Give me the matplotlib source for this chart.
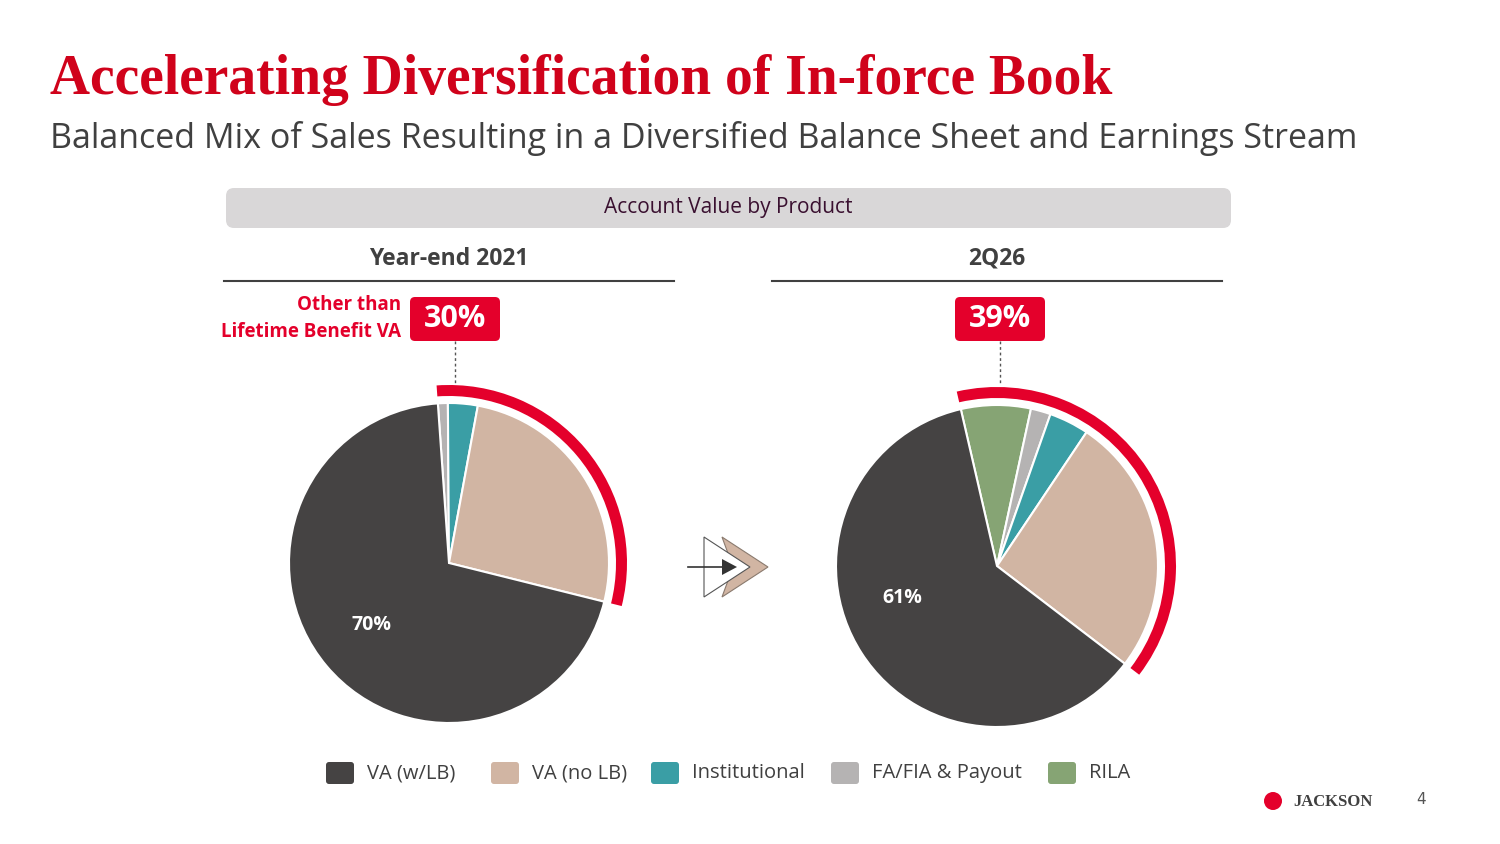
import matplotlib

matplotlib.use("Agg")

import matplotlib.pyplot as plt
from matplotlib.patches import Wedge, FancyBboxPatch, Polygon

RED = "#E4002B"
products = ["VA (w/LB)", "VA (no LB)", "Institutional", "FA/FIA & Payout", "RILA"]
colors = {"VA (w/LB)": "#454343", "VA (no LB)": "#D1B5A3", "Institutional": "#3A9EA5",
          "FA/FIA & Payout": "#B5B3B3", "RILA": "#86A474"}

# clockwise from the top
left_labels = ["FA/FIA & Payout", "Institutional", "VA (no LB)", "VA (w/LB)"]
left_values = [1, 3, 26, 70]
right_labels = ["RILA", "FA/FIA & Payout", "Institutional", "VA (no LB)", "VA (w/LB)"]
right_values = [7, 2, 4, 26, 61]

fig = plt.figure(figsize=(15, 8.44), dpi=100)
ax = fig.add_axes([0, 0, 1, 1])
ax.set_xlim(0, 1500)
ax.set_ylim(844, 0)
ax.axis("off")

fig.text(50 / 1500, 1 - 80 / 844, "Accelerating Diversification of In-force Book", color="#D0021B",
         fontsize=40, fontweight="bold", family="Liberation Serif", va="center")
fig.text(50 / 1500, 1 - 138 / 844, "Balanced Mix of Sales Resulting in a Diversified Balance Sheet and Earnings Stream",
         color="#404040", fontsize=24.5, family="Open Sans", va="center")

ax.add_patch(FancyBboxPatch((226, 188), 1005, 40, boxstyle="round,pad=0,rounding_size=8",
                            fc="#D9D7D8", ec="none"))
ax.text(728, 208, "Account Value by Product", ha="center", va="center", fontsize=15, color="#3a1030",
        family="Open Sans")

for cx, title in [(449, "Year-end 2021"), (997, "2Q26")]:
    ax.text(cx, 259, title, ha="center", va="center", fontsize=16.5, fontweight="bold", color="#404040",
            family="Open Sans")
    ax.plot([cx - 225, cx + 225], [281, 281], color="#404040", lw=1.5)


def draw_pie(cx, cy, r, labels, values, start, other, pct_text, pct_xy, badge):
    # y axis is inverted, so mirror the angles to keep the slices clockwise from the top
    ax.pie(values, colors=[colors[l] for l in labels], startangle=-start, counterclock=True,
           center=(cx, cy), radius=r, wedgeprops=dict(ec="white", lw=1.5), frame=True)
    end = start - 360 * other / 100
    ax.add_patch(Wedge((cx, cy), r + 18, -start, -end, width=11, fc=RED, ec="none"))
    ax.text(*pct_xy, pct_text, color="white", fontsize=14, fontweight="bold", ha="center", va="center",
            family="Open Sans")
    bx, by = badge
    ax.add_patch(FancyBboxPatch((bx - 45, by - 22), 90, 44, boxstyle="round,pad=0,rounding_size=5",
                                fc=RED, ec="none"))
    ax.text(bx, by, f"{other}%", color="white", fontsize=22, fontweight="bold", ha="center", va="center",
            family="Open Sans")
    ax.plot([bx, bx], [by + 22, by + 66], color="#555555", lw=1, ls=(0, (2, 2)))


draw_pie(449, 563, 160, left_labels, left_values, 94, sum(left_values[:3]), "70%", (371, 625), (455, 319))
draw_pie(997, 566, 161, right_labels, right_values, 103, sum(right_values[:4]), "61%", (902, 598), (1000, 319))
ax.set_xlim(0, 1500)
ax.set_ylim(844, 0)
ax.set_aspect("equal")

ax.text(401, 305, "Other than", color=RED, fontsize=13.5, fontweight="bold", ha="right", va="center",
        family="Open Sans")
ax.text(401, 332, "Lifetime Benefit VA", color=RED, fontsize=13.5, fontweight="bold", ha="right", va="center",
        family="Open Sans")

# arrow icon
ax.add_patch(Polygon([(722, 537), (768, 567), (722, 597), (733, 567)], closed=True, fc="#D1B5A3", ec="#8a7a6e", lw=0.8))
ax.add_patch(Polygon([(704, 537), (750, 567), (704, 597)], closed=True, fc="white", ec="#555555", lw=0.8))
ax.plot([688, 725], [567, 567], color="#333333", lw=1.2)
ax.add_patch(Polygon([(722, 559), (737, 567), (722, 575)], closed=True, fc="#333333", ec="none"))

# legend
legend_x = [340, 505, 665, 845, 1062]
for x, name in zip(legend_x, products):
    ax.add_patch(FancyBboxPatch((x - 14, 762), 28, 22, boxstyle="round,pad=0,rounding_size=3",
                                fc=colors[name], ec="none"))
    ax.text(x + 27, 773, name, fontsize=14.5, color="#404040", va="center", family="Open Sans")

ax.add_patch(plt.Circle((1273, 801), 9, fc=RED, ec="none"))
ax.text(1293, 802, "JACKSON", fontsize=12, fontweight="bold", color="#404040", va="center",
        family="Liberation Serif")
ax.text(1421, 800, "4", fontsize=11, color="#555555", ha="center", va="center")

fig.savefig("out.png", dpi=100)
